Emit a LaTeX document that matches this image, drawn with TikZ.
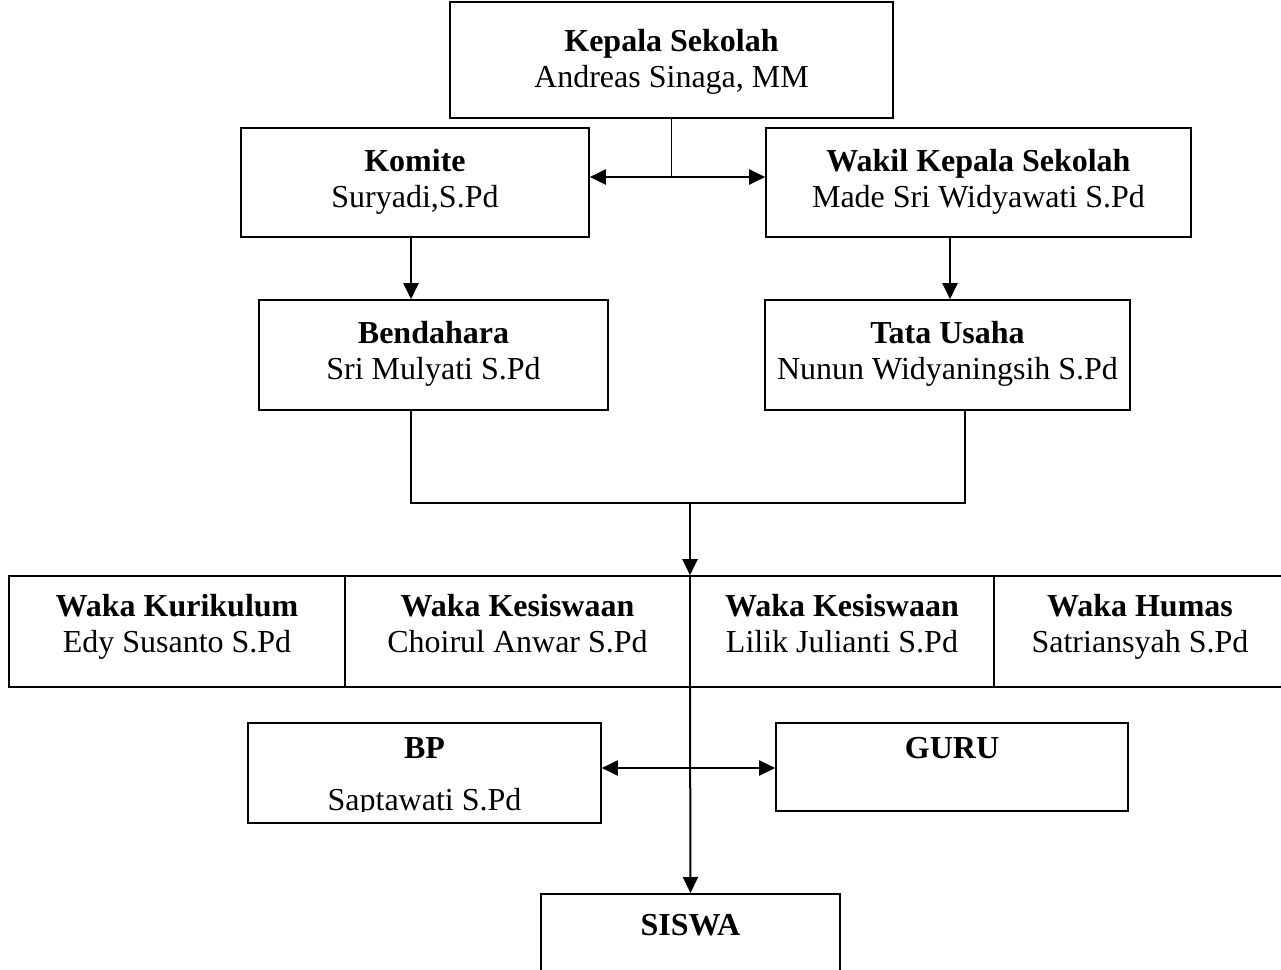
\documentclass[tikz,border=0pt]{standalone}
\usepackage{fontspec}
\setmainfont{Liberation Serif}
\usetikzlibrary{arrows.meta}

\tikzset{
    kotak/.style={draw, line width=0.8pt, align=center, inner sep=0pt,
        font=\fontsize{16}{18}\selectfont},
    panah/.style={line width=1pt, -{Triangle[length=8pt,width=7.5pt]}},
    dupanah/.style={line width=1pt, {Triangle[length=8pt,width=7.5pt]}-{Triangle[length=8pt,width=7.5pt]}},
    garis/.style={line width=0.8pt}
}
% jabatan tebal, nama biasa
\newcommand\dua[3][5.4pt]{\textbf{#2}\strut\\#3\rule[-#1]{0pt}{1pt}}

\begin{document}
\begin{tikzpicture}[x=0.5pt, y=-0.5pt]
        \useasboundingbox (0,0) rectangle (1281,970);

        % Pimpinan
        \node[kotak, minimum width=221.5pt, minimum height=58pt] (kepala) at (671.5,60)
            {\dua[3pt]{Kepala Sekolah}{Andreas Sinaga, MM}};
        \node[kotak, minimum width=174pt, minimum height=54.5pt] (komite) at (415,182.5)
            {\dua[6pt]{Komite}{Suryadi,S.Pd}};
        \node[kotak, minimum width=212.5pt, minimum height=54.5pt] (wakil) at (978.5,182.5)
            {\dua[6pt]{Wakil Kepala Sekolah}{Made Sri Widyawati S.Pd}};
        \node[kotak, minimum width=174.5pt, minimum height=55pt] (bendahara) at (433.5,355)
            {\dua[6pt]{Bendahara}{Sri Mulyati S.Pd}};
        \node[kotak, minimum width=182.5pt, minimum height=55pt] (tatausaha) at (947.5,355)
            {\dua[6pt]{Tata Usaha}{Nunun Widyaningsih S.Pd}};

        % Baris waka
        \node[kotak, minimum width=168pt, minimum height=55.5pt] (kurikulum) at (177,631.5)
            {\dua[10pt]{Waka Kurikulum}{Edy Susanto S.Pd}};
        \node[kotak, minimum width=172.5pt, minimum height=55.5pt] (kesiswaana) at (517.5,631.5)
            {\dua[10pt]{Waka Kesiswaan}{Choirul Anwar S.Pd}};
        \node[kotak, minimum width=152pt, minimum height=55.5pt] (kesiswaanb) at (842,631.5)
            {\dua[10pt]{Waka Kesiswaan}{Lilik Julianti S.Pd}};
        \node[kotak, minimum width=146pt, minimum height=55.5pt] (humas) at (1140,631.5)
            {\dua[10pt]{Waka Humas}{Satriansyah S.Pd}};

        % BP, guru, siswa
        \node[kotak, minimum width=176.5pt, text height=18pt, text depth=32pt, anchor=north] (bp) at (424.5,722)
            {\textbf{BP}};
        \begin{scope}
            \clip (bp.north west) rectangle ([yshift=6pt]bp.south east);
            \node[font=\fontsize{16}{18}\selectfont, anchor=base] (saptawati) at (424.5,810) {Saptawati S.Pd};
        \end{scope}
        \node[kotak, minimum width=176pt, text height=18pt, text depth=26pt, anchor=north] (guru) at (952,722)
            {\textbf{GURU}};
        \node[kotak, minimum width=149.5pt, text height=21pt, text depth=25pt, anchor=north] (siswa) at (690.5,893)
            {\textbf{SISWA}};

        % Penghubung atas
        \coordinate (sambung) at (671.5,177);
        \draw[garis] (kepala.south) -- (sambung);
        \draw[dupanah] (komite.east |- sambung) -- (wakil.west |- sambung);
        \draw[panah] ([xshift=-2pt]komite.south) -- ([xshift=-2pt]komite.south |- bendahara.north);
        \draw[panah] ([xshift=1.25pt]tatausaha.north |- wakil.south) -- ([xshift=1.25pt]tatausaha.north);

        % Penghubung ke waka
        \coordinate (kiri) at (411,503);
        \coordinate (kanan) at (965,503);
        \coordinate (gabung) at (690,503);
        \draw[garis] (kiri |- bendahara.south) -- (kiri) -- (kanan) -- (kanan |- tatausaha.south);
        \draw[panah] (gabung) -- (gabung |- kurikulum.north);

        % Penghubung bawah
        \coordinate (silang) at (690,768);
        \draw[panah] (gabung |- kurikulum.south) -- (siswa.north);
        \draw[dupanah] (bp.east |- silang) -- (guru.west |- silang);
    \end{tikzpicture}
\end{document}
